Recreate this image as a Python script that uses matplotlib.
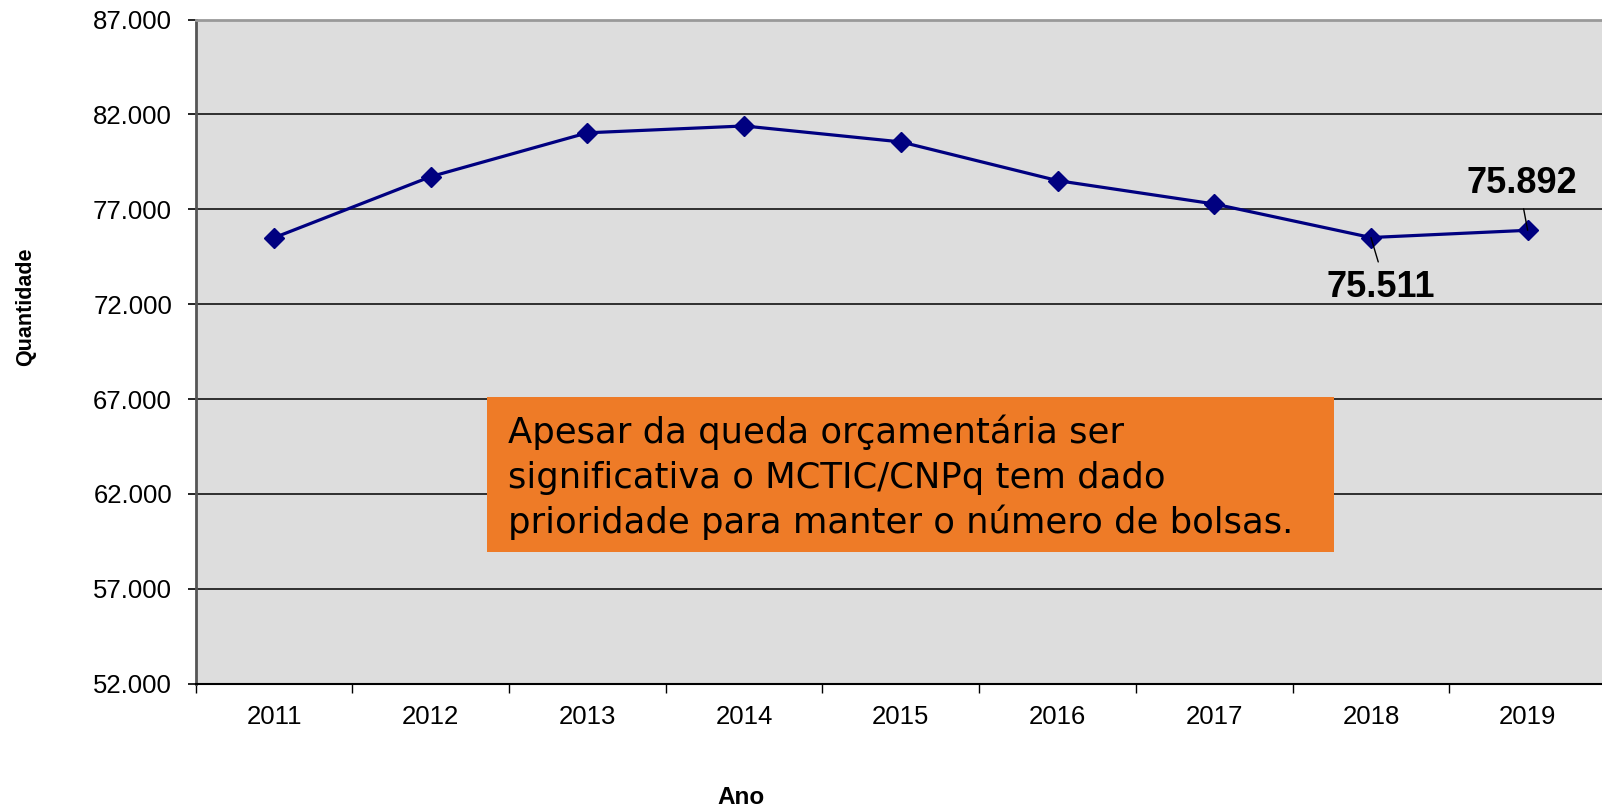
import numpy as np
import matplotlib.pyplot as plt
from matplotlib.patches import Rectangle
from matplotlib.ticker import FuncFormatter

# dados do grafico
anos = ['2011', '2012', '2013', '2014', '2015', '2016', '2017', '2018', '2019']
bolsas = [75500, 78720, 81030, 81390, 80550, 78510, 77280, 75511, 75892]
rotulos = {7: '75.511', 8: '75.892'}
texto_caixa = ['Apesar da queda orçamentária ser',
               'significativa o MCTIC/CNPq tem dado',
               'prioridade para manter o número de bolsas.']

plt.rcParams['font.family'] = ['Liberation Sans', 'DejaVu Sans']

fig = plt.figure(figsize=(16.02, 8.10), dpi=100)
ax = fig.add_axes([195.7/1602, 1-683.7/810, (1606-195.7)/1602, (683.7-19.5)/810])
ax.set_facecolor('#dddddd')

x = np.arange(len(anos))
ax.plot(x, bolsas, color='#000080', lw=2.3, marker='D', ms=10, zorder=3)

ax.set_xlim(-0.5, len(anos) - 0.5)
ax.set_ylim(52000, 87000)
ax.set_yticks(np.arange(52000, 87001, 5000))
ax.yaxis.set_major_formatter(FuncFormatter(lambda v, p: f'{int(v):,}'.replace(',', '.')))
ax.grid(axis='y', color='black', lw=1.1)
ax.set_axisbelow(True)

ax.set_xticks(x)
ax.set_xticklabels(anos)
ax.set_xticks(np.arange(-0.5, len(anos)), minor=True)
ax.tick_params(axis='x', which='major', length=0, pad=15, labelsize=18.5)
ax.tick_params(axis='x', which='minor', length=6.5, width=1, direction='out')
ax.tick_params(axis='y', length=6, width=1.2, pad=11, labelsize=18.5)

ax.spines['right'].set_visible(False)
ax.spines['top'].set_color('#999999')
ax.spines['top'].set_linewidth(2)
ax.spines['left'].set_color('#555555')
ax.spines['left'].set_linewidth(2)
ax.spines['bottom'].set_linewidth(1.5)

# rotulos de dados com linha de chamada
ax.annotate(rotulos[7], xy=(7, bolsas[7]), xytext=(7, -36), textcoords='offset points',
            ha='center', va='center', fontsize=26, fontweight='bold',
            arrowprops=dict(arrowstyle='-', color='black', lw=1, shrinkA=4, shrinkB=0, relpos=(0.5, 1)))
ax.annotate(rotulos[8], xy=(8, bolsas[8]), xytext=(-4, 34), textcoords='offset points',
            ha='center', va='center', fontsize=26, fontweight='bold',
            arrowprops=dict(arrowstyle='-', color='black', lw=1, shrinkA=4, shrinkB=0, relpos=(0.5, 0)))

fig.text(25.8/1602, 1-306.7/810, 'Quantidade', rotation=90, ha='center', va='center',
         fontsize=15.5, fontweight='bold')
fig.text(741/1602, 1-797/810, 'Ano', ha='center', va='center', fontsize=17.5, fontweight='bold')

# caixa laranja
fig.add_artist(Rectangle((487/1602, 1-552/810), (1334-487)/1602, 155/810,
                         transform=fig.transFigure, facecolor='#ee7b27', edgecolor='none', zorder=5))
for i, linha in enumerate(texto_caixa):
    fig.text(508/1602, 1-(443+45*i)/810, linha, ha='left', va='baseline', fontsize=25.5,
             family='DejaVu Sans', color='black', zorder=6)

fig.savefig('out.png', dpi=100)
